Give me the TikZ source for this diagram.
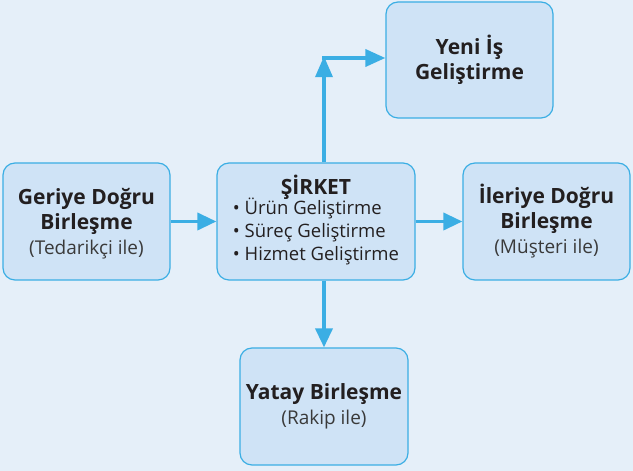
\documentclass[tikz,border=0pt]{standalone}
\usepackage{fontspec}
\setmainfont{Open Sans}
\usetikzlibrary{arrows.meta}
\definecolor{bgc}{HTML}{E5EFF9}
\definecolor{boxfill}{HTML}{CFE3F6}
\definecolor{edge}{HTML}{3BAEE4}
\definecolor{ink}{HTML}{231F20}
\definecolor{subink}{HTML}{3A3A3A}
\tikzset{
  box/.style={draw=edge, line width=1.2pt, fill=boxfill, rounded corners=12pt,
    minimum height=117pt, align=center, text=ink, inner sep=0pt},
  bigtxt/.style={font=\fontsize{21}{25}\selectfont\bfseries},
  conn/.style={draw=edge, line width=3.6pt, -{Triangle[length=19pt,width=17pt]}},
}
\newcommand{\subt}[1]{{\fontsize{19}{25}\selectfont\mdseries\color{subink}#1}}
\begin{document}
\begin{tikzpicture}[x=1pt,y=1pt]
\fill[bgc] (0,0) rectangle (633,471);
\useasboundingbox (0,0) rectangle (633,471);
\node[box, bigtxt, minimum width=167pt, text depth=0pt] (geri) at (86.5,249.5)
  {\raisebox{0pt}[0pt][0pt]{}Geriye Doğru\\Birleşme\\\subt{(Tedarikçi ile)}};
\node[box, bigtxt, minimum width=198pt] (sirket) at (316,249.5)
  {ŞİRKET\\[-3pt]
   {\fontsize{18.5}{23}\selectfont\mdseries
   \begin{tabular}{@{}l@{}}
   • Ürün Geliştirme\\
   • Süreç Geliştirme\\
   • Hizmet Geliştirme
   \end{tabular}}};
\node[box, bigtxt, minimum width=167pt] (ileri) at (546.5,249.5)
  {İleriye Doğru\\Birleşme\\\subt{(Müşteri ile)}};
\node[box, bigtxt, minimum width=167pt, minimum height=116pt] (yeni) at (469.5,411)
  {Yeni İş\\Geliştirme};
\node[box, bigtxt, minimum width=168pt] (yatay) at (324,64.5)
  {Yatay Birleşme\\\subt{(Rakip ile)}};
\coordinate (corner) at (324,413);
\draw[conn] (geri.east) -- (sirket.west);
\draw[conn] (sirket.east) -- (ileri.west);
\draw[conn, -{Triangle[length=21pt,width=17pt]}] (sirket.north -| corner) -- ([yshift=1.8pt]corner);
\draw[conn, -{Triangle[length=20pt,width=17pt]}] ([xshift=-1.8pt]corner) -- (yeni.west |- corner);
\draw[conn] (sirket.south -| yatay) -- (yatay.north);
\end{tikzpicture}
\end{document}
